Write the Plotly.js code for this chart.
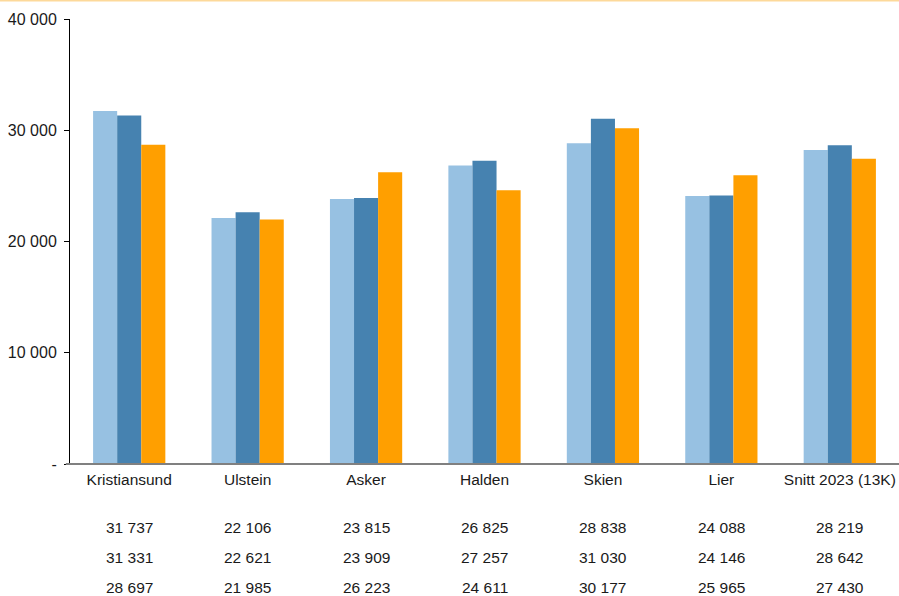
<!DOCTYPE html>
<html>
<head>
<meta charset="utf-8">
<script src="https://cdn.plot.ly/plotly-3.0.1.min.js"></script>
<style>html,body{margin:0;padding:0;background:#fff;}#chart{width:899px;height:596px;}</style>
</head>
<body>
<div id="chart"></div>
<script>
const categories = ["Kristiansund", "Ulstein", "Asker", "Halden", "Skien", "Lier", "Snitt 2023 (13K)"];
const series1 = [31737, 22106, 23815, 26825, 28838, 24088, 28219];
const series2 = [31331, 22621, 23909, 27257, 31030, 24146, 28642];
const series3 = [28697, 21985, 26223, 24611, 30177, 25965, 27430];
const seriesNames = ["Serie 1", "Serie 2", "Serie 3"];
const colors = ["#97c1e2", "#4682b0", "#ff9f00"];
const tickVals = [0, 10000, 20000, 30000, 40000];
const tickText = ["-", "10 000", "20 000", "30 000", "40 000"];

function fmt(v) { return String(v).replace(/\B(?=(\d{3})+(?!\d))/g, " "); }

const allSeries = [series1, series2, series3];
const traces = allSeries.map((s, i) => ({
  type: "bar", x: categories, y: s, name: seriesNames[i],
  marker: { color: colors[i] }, hoverinfo: "x+y"
}));

const rowY = [-0.1416, -0.2112, -0.2775];
const annotations = [];
allSeries.forEach((s, r) => {
  s.forEach((v, c) => {
    annotations.push({
      x: categories[c], y: rowY[r], xref: "x", yref: "paper",
      xanchor: "center", yanchor: "middle", borderpad: 0,
      text: fmt(v), showarrow: false,
      font: { family: "Liberation Sans, Arial, sans-serif", size: 15.5, color: "#1a1a1a" }
    });
  });
});

const layout = {
  width: 899, height: 596,
  margin: { l: 70, r: 0, t: 19, b: 132 },
  paper_bgcolor: "#fff", plot_bgcolor: "#fff",
  showlegend: false,
  barmode: "group", bargap: 0.39, bargroupgap: 0,
  font: { family: "Liberation Sans, Arial, sans-serif", size: 15.5, color: "#1a1a1a" },
  xaxis: {
    showgrid: false, zeroline: false, showline: false,
    ticks: "", ticklabelstandoff: 4, tickfont: { size: 15.5, color: "#1a1a1a" }, fixedrange: true
  },
  yaxis: {
    range: [0, 40000], tickvals: tickVals, ticktext: tickText,
    showgrid: false, zeroline: false, showline: true, linecolor: "#000", linewidth: 1,
    ticks: "outside", ticklen: 5, tickcolor: "#000", ticklabelstandoff: 4,
    tickfont: { size: 16, color: "#1a1a1a" },
    fixedrange: true
  },
  shapes: [
    { type: "line", xref: "paper", yref: "paper", x0: -0.005, x1: 1, y0: 0, y1: 0,
      line: { color: "#808080", width: 2 } },
    { type: "line", xref: "paper", yref: "paper", x0: -0.09, x1: 1, y0: 1.041, y1: 1.041,
      line: { color: "#fdd99a", width: 1.5 } }
  ],
  annotations: annotations
};

Plotly.newPlot("chart", traces, layout, { displayModeBar: false, staticPlot: true });
</script>
</body>
</html>
